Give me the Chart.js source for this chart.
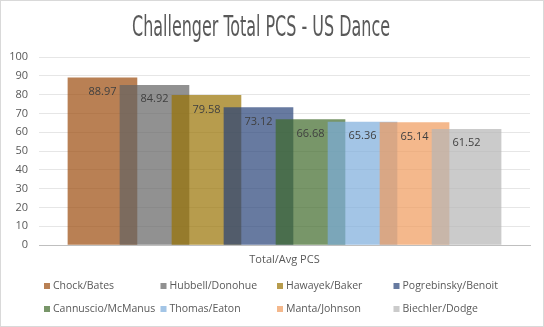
<!DOCTYPE html>
<html>
<head>
<meta charset="utf-8">
<script src="https://cdn.jsdelivr.net/npm/chart.js@4/dist/chart.umd.min.js"></script>
<style>
  html, body { margin: 0; padding: 0; background: #fff; }
</style>
</head>
<body>
<canvas id="pcsChart" width="544" height="327"></canvas>
<script>
const chartTitle = "Challenger Total PCS - US Dance";
const categoryLabel = "Total/Avg PCS";
const teams = [
  "Chock/Bates", "Hubbell/Donohue", "Hawayek/Baker", "Pogrebinsky/Benoit",
  "Cannuscio/McManus", "Thomas/Eaton", "Manta/Johnson", "Biechler/Dodge"
];
const pcs = [88.97, 84.92, 79.58, 73.12, 66.68, 65.36, 65.14, 61.52];
const barColors = [
  "rgba(155,74,11,0.7)", "rgba(98,98,98,0.7)", "rgba(152,114,2,0.7)", "rgba(39,65,119,0.7)",
  "rgba(62,105,41,0.7)", "rgba(124,172,219,0.7)", "rgba(239,154,91,0.7)", "rgba(181,181,181,0.7)"
];
const yMin = 0;
const yMax = 100;
const yStep = 10;

const textGray = "#595959";
const uiFont = '"Open Sans", "Noto Sans", sans-serif';

// white background and thin frame round the whole chart
const frame = {
  id: "frame",
  beforeDraw(chart) {
    const { ctx, width, height } = chart;
    ctx.save();
    ctx.fillStyle = "#fff";
    ctx.fillRect(0, 0, width, height);
    ctx.strokeStyle = "#d9d9d9";
    ctx.lineWidth = 1;
    ctx.strokeRect(0.5, 0.5, width - 1, height - 1);
    ctx.restore();
  },
};

// narrow title, squeezed horizontally
const narrowTitle = {
  id: "narrowTitle",
  afterDraw(chart) {
    const { ctx } = chart;
    ctx.save();
    ctx.font = '28px "Liberation Sans Narrow", "DejaVu Sans Condensed", sans-serif';
    ctx.fillStyle = textGray;
    ctx.textBaseline = "alphabetic";
    const w = ctx.measureText(chartTitle).width;
    const sx = 258 / w;
    ctx.translate(132, 36);
    ctx.scale(sx, 1);
    ctx.fillText(chartTitle, 0, 0);
    ctx.restore();
  },
};

// value printed just inside the top of each bar
const valueLabels = {
  id: "valueLabels",
  afterDatasetsDraw(chart) {
    const { ctx } = chart;
    ctx.save();
    ctx.font = "11px " + uiFont;
    ctx.fillStyle = "#404040";
    ctx.textAlign = "center";
    ctx.textBaseline = "middle";
    chart.data.datasets.forEach((ds, i) => {
      const bar = chart.getDatasetMeta(i).data[0];
      if (!bar) return;
      ctx.fillText(ds.data[0].y.toFixed(2), bar.x, bar.y + 14);
    });
    ctx.restore();
  },
};

// legend in a 4 x 2 grid under the axis
const gridLegend = {
  id: "gridLegend",
  afterDraw(chart) {
    const { ctx } = chart;
    const cols = 4;
    const colX = 44, colStep = 116.5;
    const rowY = 286, rowStep = 23;
    ctx.save();
    ctx.font = "10.5px " + uiFont;
    ctx.textBaseline = "middle";
    chart.data.datasets.forEach((ds, i) => {
      const x = colX + (i % cols) * colStep;
      const y = rowY + Math.floor(i / cols) * rowStep;
      ctx.fillStyle = ds.backgroundColor;
      ctx.fillRect(x, y - 3, 6, 6);
      ctx.fillStyle = textGray;
      ctx.fillText(ds.label, x + 9, y);
    });
    ctx.restore();
  },
};

const datasets = teams.map((name, i) => ({
  label: name,
  data: [{ x: i, y: pcs[i] }],
  backgroundColor: barColors[i],
  borderWidth: 0,
  grouped: false,
  barThickness: 69,
  order: teams.length - i,
}));

const ctx = document.getElementById("pcsChart").getContext("2d");

new Chart(ctx, {
  type: "bar",
  data: { datasets: datasets },
  options: {
    responsive: false,
    animation: false,
    events: [],
    layout: { padding: { top: 57, right: 14, bottom: 57, left: 0 } },
    plugins: {
      legend: { display: false },
      title: { display: false },
      tooltip: { enabled: false },
    },
    scales: {
      x: {
        type: "linear",
        offset: false,
        min: -1.22,
        max: teams.length - 1 + 1.22,
        grid: { display: false },
        border: { display: true, color: "#bfbfbf", width: 1 },
        ticks: { display: false },
        title: {
          display: true,
          text: categoryLabel,
          color: textGray,
          font: { family: uiFont, size: 11 },
          padding: { top: 8, bottom: 4 },
        },
        afterFit(scale) {
          scale.height = 25;
        },
      },
      y: {
        min: yMin,
        max: yMax,
        ticks: {
          stepSize: yStep,
          padding: 11,
          color: textGray,
          font: { family: uiFont, size: 11 },
        },
        grid: { color: "#e6e6e6", drawTicks: false },
        border: { display: false },
        afterFit(scale) {
          scale.width = 39;
        },
      },
    },
  },
  plugins: [frame, valueLabels, gridLegend, narrowTitle],
});
</script>
</body>
</html>
